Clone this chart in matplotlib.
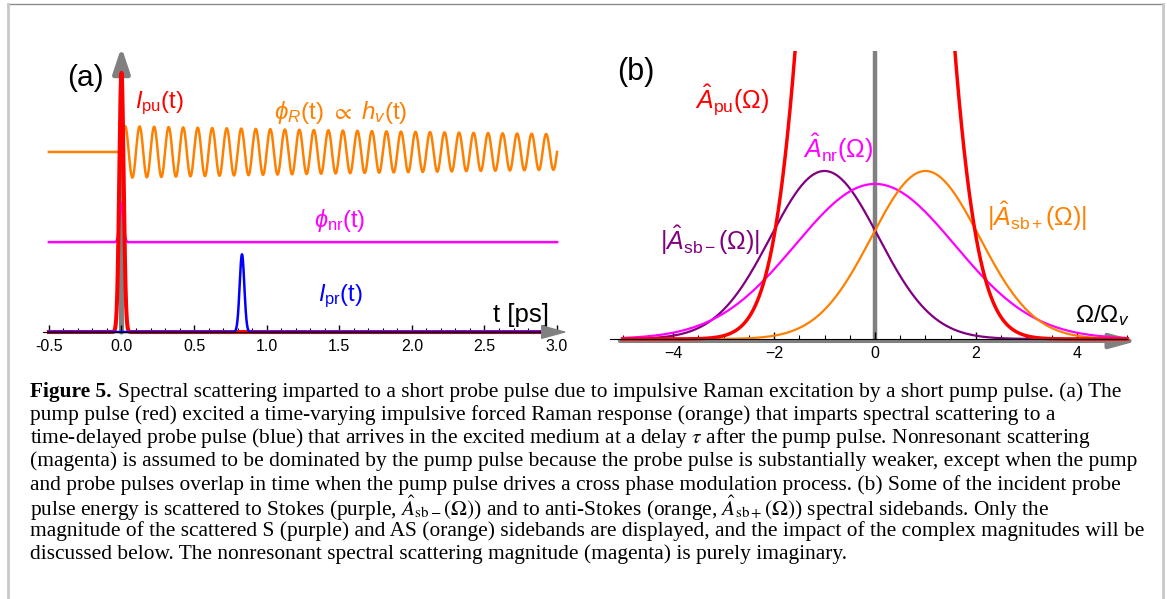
import numpy as np
import matplotlib
matplotlib.use('Agg')
import matplotlib.pyplot as plt
from matplotlib.lines import Line2D

plt.rcParams['font.family'] = ['Liberation Sans', 'DejaVu Sans']
plt.rcParams['mathtext.fontset'] = 'custom'
plt.rcParams['mathtext.rm'] = 'Liberation Sans'
plt.rcParams['mathtext.it'] = 'Liberation Sans:italic'
plt.rcParams['mathtext.bf'] = 'Liberation Sans:bold'
plt.rcParams['mathtext.sf'] = 'Liberation Sans'
plt.rcParams['mathtext.fallback'] = 'stixsans'

# ---- panel (a): time domain (a.u., pump peak = 1)
pulse_delay = [0.0, 0.83]          # ps, pump / probe
pulse_peak = [1.0, 0.30]
pulse_sigma = [0.015, 0.016]       # ps
raman_offset = 0.695
raman_amp = 0.100
raman_period = 0.10                # ps
raman_decay = 8.0                  # ps
nr_offset = 0.347
nr_bump = 0.151
nr_sigma = 0.013

a_ticks = [-0.5, 0.0, 0.5, 1.0, 1.5, 2.0, 2.5, 3.0]
a_ticklabels = ['-0.5', '0.0', '0.5', '1.0', '1.5', '2.0', '2.5', '3.0']

# ---- panel (b): spectra (a.u., sideband peak = 1)
sb_center = [-1.0, 0.0, 1.0]       # Stokes, nonresonant, anti-Stokes
sb_height = [1.0, 0.923, 1.0]
sb_width = [1.07, 1.58, 1.07]
pu_spec_peak = 9.7
pu_spec_width = 0.85

b_ticks = [-4, -2, 0, 2, 4]
b_ticklabels = ['\u22124', '\u22122', '0', '2', '4']

caption_head = 'Figure 5.'
caption_lines = [
    'Spectral scattering imparted to a short probe pulse due to impulsive Raman excitation by a short pump pulse. (a) The',
    'pump pulse (red) excited a time-varying impulsive forced Raman response (orange) that imparts spectral scattering to a',
    'time-delayed probe pulse (blue) that arrives in the excited medium at a delay $\\tau$ after the pump pulse. Nonresonant scattering',
    '(magenta) is assumed to be dominated by the pump pulse because the probe pulse is substantially weaker, except when the pump',
    'and probe pulses overlap in time when the pump pulse drives a cross phase modulation process. (b) Some of the incident probe',
    'pulse energy is scattered to Stokes (purple, $\\hat{A}_{\\mathrm{sb}-}(\\Omega)$) and to anti-Stokes (orange, $\\hat{A}_{\\mathrm{sb}+}(\\Omega)$) spectral sidebands. Only the',
    'magnitude of the scattered S (purple) and AS (orange) sidebands are displayed, and the impact of the complex magnitudes will be',
    'discussed below. The nonresonant spectral scattering magnitude (magenta) is purely imaginary.',
]

W, H = 1167, 599
fig = plt.figure(figsize=(W / 100, H / 100), dpi=100)

# frame round the figure
fig.add_artist(Line2D([8 / W, 1163 / W], [1 - 4 / H, 1 - 4 / H], color='#8c8c8c', lw=1.0))
fig.add_artist(Line2D([8 / W, 8 / W], [0, 1 - 4 / H], color='#c8c8c8', lw=2.0))
fig.add_artist(Line2D([1163 / W, 1163 / W], [0, 1 - 4 / H], color='#c8c8c8', lw=2.0))

# ================= panel (a)
axA = fig.add_axes([30 / W, 1 - 380 / H, 550 / W, 340 / H])
axA.set_xlim(-0.630, 3.158)
axA.set_ylim(-0.185, 1.127)
axA.patch.set_alpha(0)

t = np.linspace(-0.5, 3.0, 6000)
pump = pulse_peak[0] * np.exp(-(t - pulse_delay[0]) ** 2 / (2 * pulse_sigma[0] ** 2))
probe = pulse_peak[1] * np.exp(-(t - pulse_delay[1]) ** 2 / (2 * pulse_sigma[1] ** 2))
raman = np.where(t < 0, raman_offset,
                 raman_offset + raman_amp * np.sin(2 * np.pi * t / raman_period) * np.exp(-t / raman_decay))
nonres = nr_offset + nr_bump * np.exp(-t ** 2 / (2 * nr_sigma ** 2))

# vertical axis arrow
axA.annotate('', xy=(0, 1.10), xytext=(0, 0),
             arrowprops=dict(arrowstyle='-|>,head_length=0.75,head_width=0.25', color='gray',
                             lw=3.6, mutation_scale=20, shrinkA=0, shrinkB=0), zorder=1)
axA.plot(t, raman, color='#ff8000', lw=1.8, zorder=2)
axA.plot(t, nonres, color='#ff00ff', lw=1.8, zorder=2)
axA.plot(t, pump, color='red', lw=2.9, zorder=3)
axA.plot(t, probe, color='blue', lw=1.8, zorder=4)

# horizontal axis with ticks
for s in ['left', 'top', 'right']:
    axA.spines[s].set_visible(False)
axA.spines['bottom'].set_position(('data', 0))
axA.spines['bottom'].set_bounds(-0.54, 3.0)
axA.spines['bottom'].set_zorder(5)
axA.set_xticks(a_ticks)
axA.set_xticklabels(a_ticklabels)
axA.set_xticks(np.arange(-0.5, 3.001, 0.1), minor=True)
axA.tick_params(axis='x', which='major', direction='in', length=5, width=1, pad=5, labelsize=11.5)
axA.tick_params(axis='x', which='minor', direction='in', length=3, width=0.8)
axA.set_yticks([])
axA.annotate('', xy=(3.07, 0), xytext=(2.93, 0),
             arrowprops=dict(arrowstyle='-|>,head_length=1.1,head_width=0.3', color='gray',
                             lw=1, mutation_scale=15, shrinkA=0, shrinkB=0), zorder=6)

axA.text(-0.245, 0.981, '(a)', fontsize=21.5, ha='center', va='center')
axA.text(0.093, 0.884, '$I_{\\mathrm{pu}}$(t)', color='red', fontsize=17, ha='left', va='center')
axA.text(1.512, 0.849, '$\\phi_R$(t) $\\propto$ $h_v$(t)', color='#ff8000', fontsize=17.5, ha='center', va='center')
axA.text(1.505, 0.432, '$\\phi_{\\mathrm{nr}}$(t)', color='#ff00ff', fontsize=17, ha='center', va='center')
axA.text(1.511, 0.139, '$I_{\\mathrm{pr}}$(t)', color='blue', fontsize=17, ha='center', va='center')
axA.text(2.751, 0.066, 't [ps]', color='black', fontsize=18.5, ha='center', va='center')

# ================= panel (b)
axB = fig.add_axes([600 / W, 1 - 380 / H, 550 / W, 329 / H])
axB.set_xlim(-5.446, 5.446)
axB.set_ylim(-0.244, 1.714)
axB.patch.set_alpha(0)

w = np.linspace(-5.0, 5.0, 3000)
sb_minus = sb_height[0] * np.exp(-(w - sb_center[0]) ** 2 / (2 * sb_width[0] ** 2))
sb_nr = sb_height[1] * np.exp(-(w - sb_center[1]) ** 2 / (2 * sb_width[1] ** 2))
sb_plus = sb_height[2] * np.exp(-(w - sb_center[2]) ** 2 / (2 * sb_width[2] ** 2))
pu_spec = pu_spec_peak * np.exp(-w ** 2 / (2 * pu_spec_width ** 2))

axB.plot([0, 0], [0, 1.72], color='gray', lw=3.2, zorder=1)
axB.annotate('', xy=(5.19, -0.012), xytext=(-5.05, -0.012),
             arrowprops=dict(arrowstyle='-|>,head_length=1.1,head_width=0.3', color='gray',
                             lw=2.9, mutation_scale=15, shrinkA=0, shrinkB=0), zorder=1)
axB.plot(w, sb_minus, color='#800080', lw=1.6, zorder=2)
axB.plot(w, sb_nr, color='#ff00ff', lw=1.6, zorder=2)
axB.plot(w, sb_plus, color='#ff8000', lw=1.6, zorder=2)
axB.plot(w, pu_spec, color='red', lw=2.5, zorder=3)

for s in ['left', 'top', 'right']:
    axB.spines[s].set_visible(False)
axB.spines['bottom'].set_position(('data', 0))
axB.spines['bottom'].set_bounds(-5.25, 5.0)
axB.spines['bottom'].set_zorder(5)
axB.set_xticks(b_ticks)
axB.set_xticklabels(b_ticklabels)
axB.set_xticks(np.arange(-5.0, 5.001, 0.5), minor=True)
axB.tick_params(axis='x', which='major', direction='in', length=5, width=1, pad=5, labelsize=11.5)
axB.tick_params(axis='x', which='minor', direction='in', length=3, width=0.8)
axB.set_yticks([])

axB.text(-4.73, 1.589, '(b)', fontsize=22, ha='center', va='center')
axB.text(-2.83, 1.42, '$\\hat{A}_{\\mathrm{pu}}(\\Omega)$', color='red', fontsize=18, ha='center', va='center')
axB.text(-0.73, 1.137, '$\\hat{A}_{\\mathrm{nr}}(\\Omega)$', color='#ff00ff', fontsize=18, ha='center', va='center')
axB.text(-3.27, 0.589, '$|\\hat{A}_{\\mathrm{sb}-}(\\Omega)|$', color='#800080', fontsize=18, ha='center', va='center')
axB.text(3.21, 0.732, '$|\\hat{A}_{\\mathrm{sb}+}(\\Omega)|$', color='#ff8000', fontsize=18, ha='center', va='center')
axB.text(4.50, 0.137, '$\\Omega/\\Omega_v$', color='black', fontsize=17.5, ha='center', va='center')

# ================= caption
renderer = fig.canvas.get_renderer()
probe_txt = fig.text(0, 0, caption_lines[6], family='Liberation Serif', size=12)
cap_size = 12 * 1108 / probe_txt.get_window_extent(renderer).width
probe_txt.remove()

x0 = 30 / W
line_y0, line_dy = 392, 23.2
head = fig.text(x0, 1 - line_y0 / H, caption_head, family='Liberation Serif', weight='bold',
                size=cap_size, va='center', math_fontfamily='stix')
head_w = head.get_window_extent(renderer).width + 0.28 * cap_size * 100 / 72
for i, line in enumerate(caption_lines):
    x = x0 + (head_w / W if i == 0 else 0)
    fig.text(x, 1 - (line_y0 + i * line_dy) / H, line, family='Liberation Serif', size=cap_size,
             va='center', math_fontfamily='stix')

fig.savefig('out.png', dpi=100)
